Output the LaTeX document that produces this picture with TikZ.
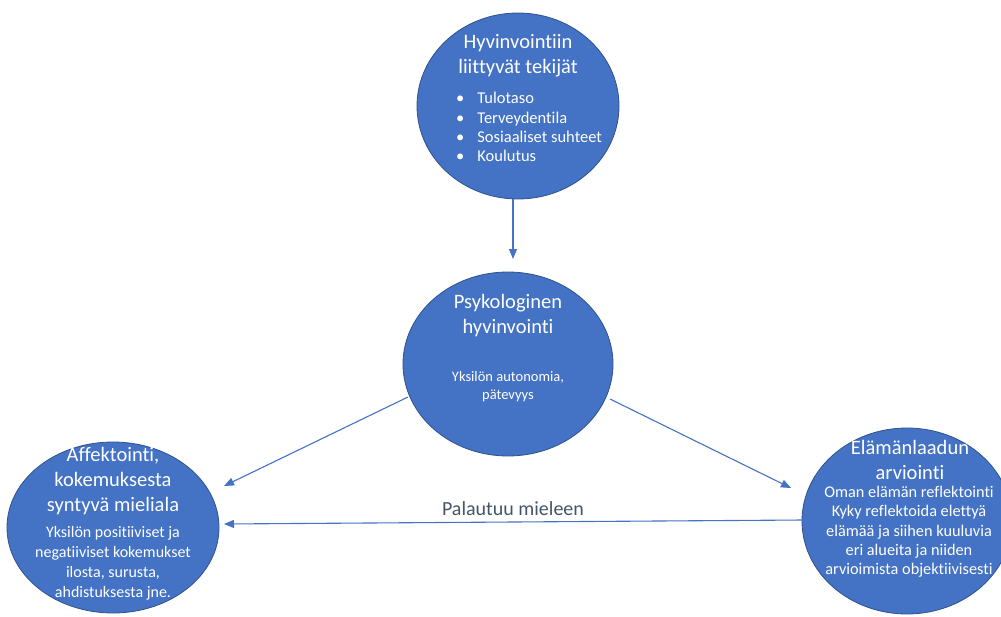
\documentclass[tikz,border=0pt]{standalone}
\usepackage{fontspec}
\setmainfont{Carlito}[Ligatures={NoCommon}]
\usetikzlibrary{shapes.geometric,arrows.meta}
\definecolor{cfill}{HTML}{4472C4}
\definecolor{cline}{HTML}{2F528F}
\definecolor{ctext}{HTML}{44546A}
\tikzset{
  bubble/.style={ellipse, fill=cfill, draw=cline, line width=0.8pt, inner sep=0pt},
  ttl/.style={text=white, font=\fontsize{20.5}{25}\selectfont, align=center, inner sep=0pt},
  body/.style={text=white, font=\fontsize{15}{19.3}\selectfont, align=center, inner sep=0pt},
  arr/.style={draw=cfill, line width=1.1pt, -{Triangle[length=10pt,width=8pt]}},
}
\begin{document}
\begin{tikzpicture}[x=1pt,y=-1pt]
\useasboundingbox (0,0) rectangle (1001,616);
\begin{scope}
\clip (0,0) rectangle (1001,616);
\node[bubble, minimum width=202pt, minimum height=186pt] (top) at (518,106) {};
\node[bubble, minimum width=210pt, minimum height=184pt] (mid) at (508,364) {};
\node[bubble, minimum width=212pt, minimum height=171pt] (left) at (113,527.5) {};
\node[bubble, minimum width=210pt, minimum height=186pt] (right) at (907,521) {};
\end{scope}

% top texts
\node[ttl] (t1) at (518,56) {Hyvinvointiin\\liittyvät tekijät};
\node[body, font=\fontsize{16.5}{19.3}\selectfont, align=left, anchor=west] (t2) at (456,127) {%
\textbullet\hspace{13pt}Tulotaso\\
\textbullet\hspace{13pt}Terveydentila\\
\textbullet\hspace{13pt}Sosiaaliset suhteet\\
\textbullet\hspace{13pt}Koulutus};

% middle texts
\node[ttl] (m1) at (508,316) {Psykologinen\\hyvinvointi};
\node[body, font=\fontsize{14.5}{18}\selectfont] (m2) at (508,387) {Yksilön autonomia,\\pätevyys};

% left texts
\node[ttl] (l1) at (113,481) {Affektointi,\\kokemuksesta\\syntyvä mieliala};
\node[body, font=\fontsize{16}{20}\selectfont] (l2) at (113,563) {Yksilön positiiviset ja\\negatiiviset kokemukset\\ilosta, surusta,\\ahdistuksesta jne.};

% right texts
\node[ttl] (r1) at (910,459.5) {Elämänlaadun\\arviointi};
\node[body, font=\fontsize{16.3}{19.3}\selectfont] (r2) at (909,532) {Oman elämän reflektointi\\Kyky reflektoida elettyä\\elämää ja siihen kuuluvia\\eri alueita ja niiden\\arvioimista objektiivisesti};

% connector ends
\coordinate (a1) at (513,199);
\coordinate (a2) at (513,259);
\coordinate (b1) at (408,397);
\coordinate (b2) at (224,486);
\coordinate (c1) at (610,399);
\coordinate (c2) at (791,488);
\coordinate (d1) at (803,520);
\coordinate (d2) at (224,524);

\draw[arr] (a1) -- (a2);
\draw[arr] (b1) -- (b2);
\draw[arr] (c1) -- (c2);
\draw[arr] (d1) -- (d2);
\node[text=ctext, font=\fontsize{20}{24}\selectfont, inner sep=0pt] (lab) at (513,509) {Palautuu mieleen};
\end{tikzpicture}
\end{document}
